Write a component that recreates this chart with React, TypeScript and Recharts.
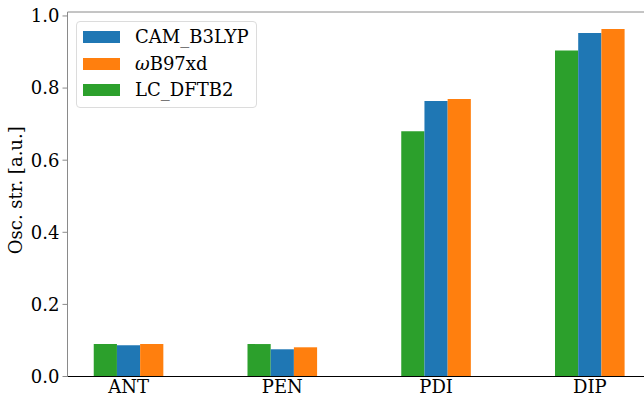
import React from "react";
import { BarChart, Bar, XAxis, YAxis, ReferenceLine } from "recharts";

const molecules = ["ANT", "PEN", "PDI", "DIP"];
const camB3lyp = [0.087, 0.0755, 0.764, 0.953];
const wB97xd = [0.09, 0.081, 0.77, 0.964];
const lcDftb2 = [0.09, 0.09, 0.68, 0.904];
const yTicks = [0, 0.2, 0.4, 0.6, 0.8, 1.0];

const Y_MAX = 1.011;
const FONT = "'DejaVu Serif', serif";

const data = molecules.map((name, i) => ({
  pos: i,
  name,
  cam: camB3lyp[i],
  wb: wB97xd[i],
  lc: lcDftb2[i],
}));

const legendItems = [
  { key: "cam", color: "#1f77b4", label: <>CAM_B3LYP</> },
  { key: "wb", color: "#ff7f0e", label: <><i>ω</i>B97xd</> },
  { key: "lc", color: "#2ca02c", label: <>LC_DFTB2</> },
];

function LegendBox() {
  return (
    <div
      style={{
        position: "absolute",
        left: 76,
        top: 21,
        width: 181,
        height: 87,
        border: "1px solid #dcdcdc",
        borderRadius: 4,
        background: "rgba(255,255,255,0.8)",
        fontFamily: FONT,
        fontSize: 18,
        color: "#000",
        boxSizing: "border-box",
        paddingTop: 2,
      }}
    >
      {legendItems.map((it) => (
        <div
          key={it.key}
          style={{ display: "flex", alignItems: "center", height: 26.5 }}
        >
          <span
            style={{
              display: "inline-block",
              width: 37,
              height: 12,
              marginLeft: 6,
              marginRight: 15,
              background: it.color,
            }}
          />
          <span style={{ lineHeight: "20px" }}>{it.label}</span>
        </div>
      ))}
    </div>
  );
}

export default function App() {
  return (
    <div
      style={{
        position: "absolute",
        left: 0,
        top: 0,
        width: 644,
        height: 396,
        overflow: "hidden",
        background: "#fff",
      }}
    >
      <BarChart
        width={660}
        height={396}
        data={data}
        margin={{ top: 12, right: 9, bottom: 0, left: 0 }}
        barGap={0}
      >
        <XAxis
          dataKey="pos"
          type="number"
          domain={[-0.3975, 3.3975]}
          ticks={[0, 1, 2, 3]}
          tickFormatter={(v: number) => molecules[v]}
          height={19.5}
          tickSize={0}
          tickMargin={4}
          tickLine={false}
          axisLine={{ stroke: "#000", strokeWidth: 1 }}
          tick={{ fill: "#000", fontSize: 18, fontFamily: FONT }}
          allowDataOverflow
        />
        <YAxis
          type="number"
          domain={[0, Y_MAX]}
          ticks={yTicks}
          tickFormatter={(v: number) => v.toFixed(1)}
          width={67.5}
          tickSize={5}
          tickMargin={3}
          axisLine={{ stroke: "#8a8a8a", strokeWidth: 1 }}
          tickLine={{ stroke: "#8a8a8a" }}
          tick={{ fill: "#000", fontSize: 18, fontFamily: FONT }}
          label={{
            value: "Osc. str. [a.u.]",
            angle: -90,
            position: "insideLeft",
            dx: 11,
            dy: -4,
            style: { fill: "#000", fontSize: 18, fontFamily: FONT, textAnchor: "middle" },
          }}
        />
        <ReferenceLine y={Y_MAX} stroke="#8a8a8a" strokeWidth={1} />
        <Bar dataKey="lc" fill="#2ca02c" barSize={23.2} isAnimationActive={false} />
        <Bar dataKey="cam" fill="#1f77b4" barSize={23.2} isAnimationActive={false} />
        <Bar dataKey="wb" fill="#ff7f0e" barSize={23.2} isAnimationActive={false} />
      </BarChart>
      <LegendBox />
    </div>
  );
}
